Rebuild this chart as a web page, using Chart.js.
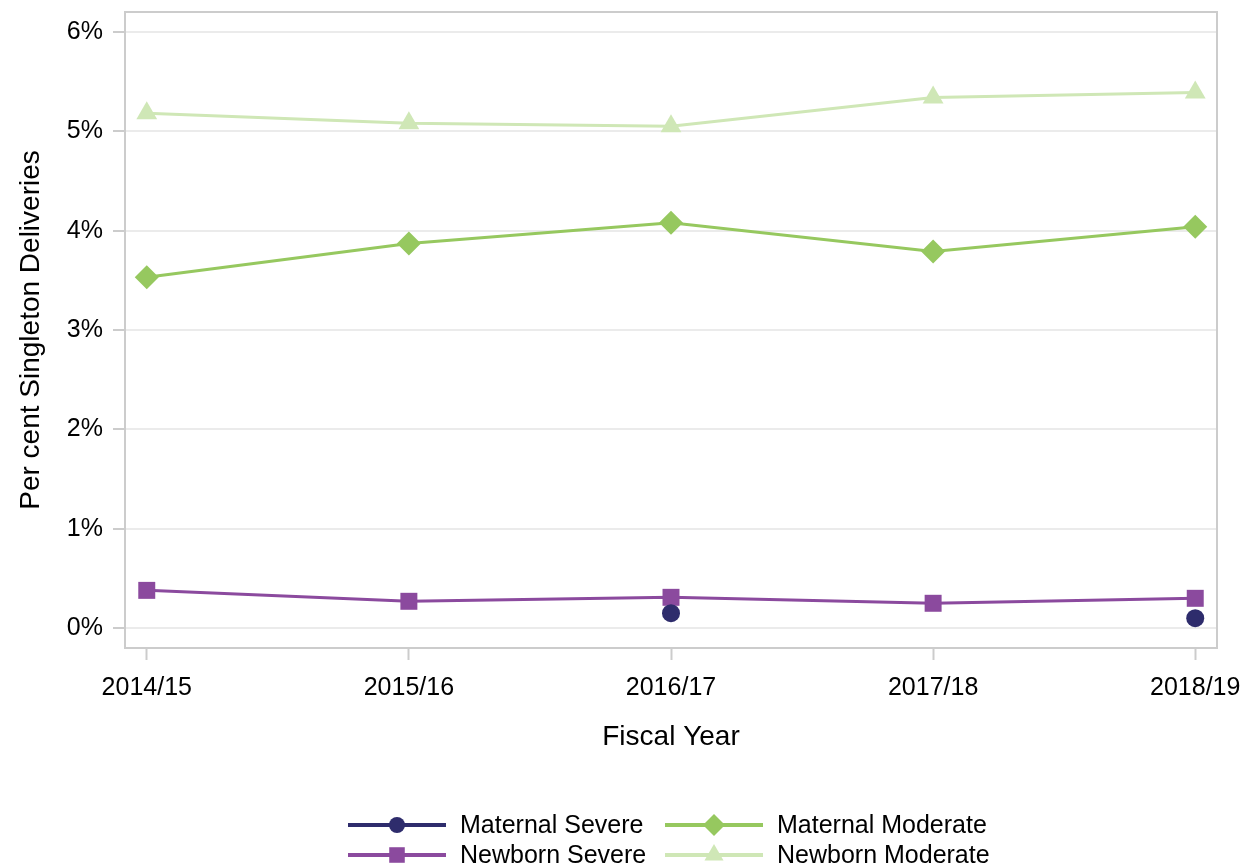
<!DOCTYPE html>
<html>
<head>
<meta charset="utf-8">
<script src="https://cdn.jsdelivr.net/npm/chart.js@4/dist/chart.umd.min.js"></script>
<style>
  html, body { margin: 0; padding: 0; background: #ffffff; }
  #wrap { width: 1244px; height: 867px; position: relative; }
</style>
</head>
<body>
<div id="wrap"><canvas id="chart" width="1244" height="867"></canvas></div>
<script>
// Fiscal years on the x axis
const fiscalYears = ['2014/15', '2015/16', '2016/17', '2017/18', '2018/19'];

// Per cent of singleton deliveries by outcome
const maternalSevere   = [null, null, 0.15, null, 0.10];
const newbornSevere    = [0.38, 0.27, 0.31, 0.25, 0.30];
const maternalModerate = [3.53, 3.87, 4.08, 3.79, 4.04];
const newbornModerate  = [5.18, 5.08, 5.05, 5.34, 5.39];

// Y axis tick values (per cent)
const yTicks = [0, 1, 2, 3, 4, 5, 6];

const FONT = '"Liberation Sans", Arial, Helvetica, sans-serif';

const series = [
  { label: 'Maternal Severe',   values: maternalSevere,   color: '#2e2c6c', point: 'circle',   radius: 9,  legendRadius: 8 },
  { label: 'Newborn Severe',    values: newbornSevere,    color: '#8b4a9e', point: 'rect',     radius: 12, legendRadius: 11 },
  { label: 'Maternal Moderate', values: maternalModerate, color: '#96c85f', point: 'rectRot',  radius: 12, legendRadius: 11 },
  { label: 'Newborn Moderate',  values: newbornModerate,  color: '#cfe7b6', point: 'triangle', radius: 12, legendRadius: 11 }
];

const toPoints = vals => vals.map((v, i) => ({ x: i, y: v }));

const datasets = series.map(s => ({
  label: s.label,
  data: toPoints(s.values),
  borderColor: s.color,
  backgroundColor: s.color,
  borderWidth: 3,
  pointStyle: s.point,
  pointRadius: s.radius,
  pointHoverRadius: s.radius,
  pointBorderWidth: 0,
  pointBackgroundColor: s.color,
  spanGaps: false,
  tension: 0
}));

// Frame around the plotting area (top and right sides complete the axes box)
const frame = {
  id: 'frame',
  beforeDatasetsDraw(chart) {
    const { ctx, chartArea: a } = chart;
    ctx.save();
    ctx.strokeStyle = '#cccccc';
    ctx.lineWidth = 2;
    ctx.strokeRect(a.left, a.top, a.right - a.left, a.bottom - a.top);
    ctx.restore();
  }
};

// Two-column legend beneath the axis title
const bottomLegend = {
  id: 'bottomLegend',
  afterDraw(chart) {
    const ctx = chart.ctx;
    const cols = [
      { lineStart: 348, lineEnd: 446, marker: 397, text: 460 },
      { lineStart: 665, lineEnd: 763, marker: 714, text: 777 }
    ];
    const rows = [825, 855];
    const place = [[0, 0], [0, 1], [1, 0], [1, 1]];
    ctx.save();
    series.forEach((s, i) => {
      const c = cols[place[i][0]];
      const y = rows[place[i][1]];
      ctx.strokeStyle = s.color;
      ctx.lineWidth = 4;
      ctx.beginPath();
      ctx.moveTo(c.lineStart, y);
      ctx.lineTo(c.lineEnd, y);
      ctx.stroke();
      ctx.fillStyle = s.color;
      Chart.helpers.drawPoint(ctx, {
        pointStyle: s.point, radius: s.legendRadius, rotation: 0, borderWidth: 0
      }, c.marker, y);
      ctx.fillStyle = '#000000';
      ctx.font = '25px ' + FONT;
      ctx.textBaseline = 'middle';
      ctx.textAlign = 'left';
      ctx.fillText(s.label, c.text, y + 1);
    });
    ctx.restore();
  }
};

new Chart(document.getElementById('chart'), {
  type: 'line',
  data: { datasets },
  plugins: [frame, bottomLegend],
  options: {
    responsive: false,
    animation: false,
    events: [],
    layout: { padding: { left: 0, top: 11, right: 27, bottom: 107 } },
    plugins: { legend: { display: false }, tooltip: { enabled: false } },
    scales: {
      x: {
        type: 'linear',
        min: -0.083,
        max: 4.083,
        afterFit(scale) {
          scale.height = 112;
          scale.paddingLeft = 0;
          scale.paddingRight = 0;
        },
        afterBuildTicks(scale) { scale.ticks = fiscalYears.map((_, i) => ({ value: i })); },
        border: { display: false },
        grid: {
          drawOnChartArea: false,
          drawTicks: true,
          tickLength: 12,
          tickWidth: 2,
          tickColor: '#cccccc'
        },
        ticks: {
          autoSkip: false,
          maxRotation: 0,
          padding: 13,
          color: '#000000',
          font: { family: FONT, size: 25 },
          callback: v => fiscalYears[v] ?? ''
        },
        title: {
          display: true,
          text: 'Fiscal Year',
          color: '#000000',
          font: { family: FONT, size: 28 },
          padding: { top: 0, bottom: 6 }
        }
      },
      y: {
        type: 'linear',
        min: -0.2,
        max: 6.2,
        afterFit(scale) {
          scale.width = 125;
          scale.paddingTop = 0;
          scale.paddingBottom = 0;
        },
        afterBuildTicks(scale) { scale.ticks = yTicks.map(v => ({ value: v })); },
        border: { display: false },
        grid: {
          color: '#ebebeb',
          lineWidth: 2,
          drawTicks: true,
          tickLength: 12,
          tickWidth: 2,
          tickColor: '#cccccc'
        },
        ticks: {
          padding: 10,
          color: '#000000',
          font: { family: FONT, size: 25 },
          callback: v => v + '%'
        },
        title: {
          display: true,
          text: 'Per cent Singleton Deliveries',
          color: '#000000',
          font: { family: FONT, size: 28 },
          padding: { top: 14, bottom: 0 }
        }
      }
    }
  }
});
</script>
</body>
</html>
